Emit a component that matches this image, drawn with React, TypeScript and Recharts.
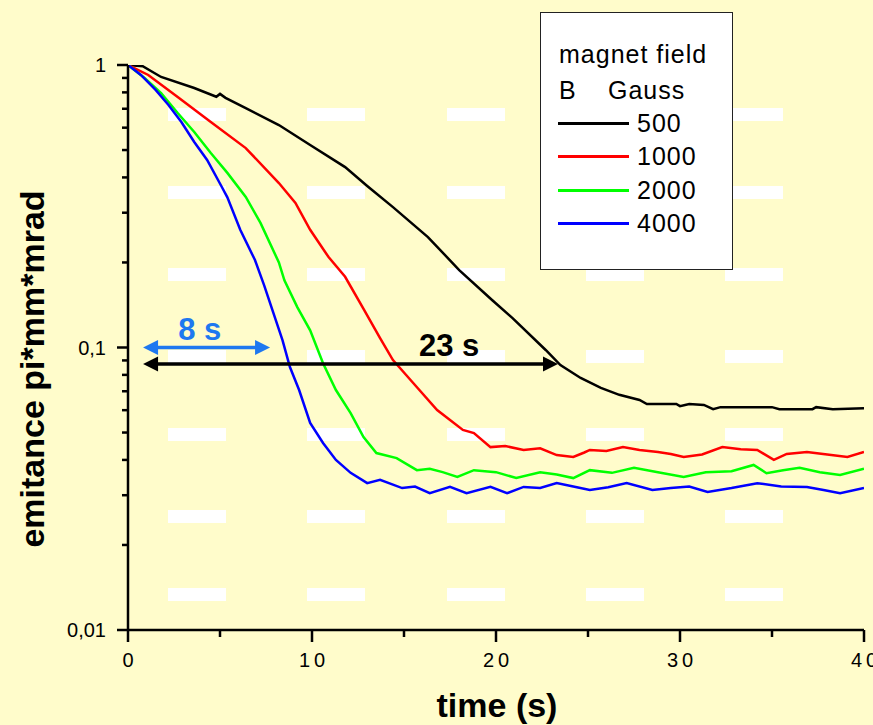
import React from 'react';
import { LineChart, Line, XAxis, YAxis, Legend, ReferenceLine, Label } from 'recharts';

const FONT = 'Arial, "Liberation Sans", Helvetica, sans-serif';
const BG = '#FFFCCB';

// readings taken off the original plot: time (s) and emittance (pi*mm*mrad)
const time500 = [0, 0.8, 1.8, 3.6, 4.8, 5.0, 5.3, 6.4, 8.2, 9.9, 11.8, 13.0, 14.4, 16.3, 18.0, 19.8, 20.9, 22.7, 23.5, 24.6, 25.7, 26.7, 27.8, 28.2, 29.8, 30.0, 30.5, 31.3, 31.8, 32.2, 35.0, 35.4, 37.2, 37.4, 38.3, 40];
const emit500 = [1.0, 0.99, 0.907, 0.829, 0.772, 0.79, 0.765, 0.704, 0.613, 0.521, 0.435, 0.373, 0.314, 0.246, 0.188, 0.147, 0.127, 0.098, 0.0867, 0.078, 0.072, 0.068, 0.0652, 0.0631, 0.0631, 0.062, 0.0631, 0.0626, 0.0605, 0.0615, 0.0615, 0.0605, 0.0605, 0.0615, 0.0605, 0.061];

const time1000 = [0, 1.1, 2.7, 4.5, 6.4, 8.2, 9.1, 9.9, 10.9, 11.8, 12.8, 13.7, 14.4, 15.5, 16.8, 18.2, 18.8, 19.7, 20.5, 21.5, 22.4, 23.3, 24.2, 24.8, 25.1, 26.0, 26.9, 27.8, 28.8, 29.5, 30.2, 31.2, 32.3, 33.3, 34.2, 35.1, 35.8, 36.9, 38.0, 39.1, 40];
const emit1000 = [1.0, 0.922, 0.77, 0.628, 0.508, 0.382, 0.325, 0.261, 0.209, 0.178, 0.137, 0.108, 0.0903, 0.0749, 0.0601, 0.0511, 0.0498, 0.0444, 0.0448, 0.0434, 0.044, 0.0416, 0.041, 0.0425, 0.0434, 0.043, 0.0444, 0.0434, 0.0427, 0.042, 0.041, 0.0418, 0.0444, 0.0436, 0.0434, 0.04, 0.042, 0.0427, 0.0418, 0.041, 0.0427];

const time2000 = [0, 0.9, 1.8, 2.7, 3.6, 4.5, 5.4, 6.4, 7.2, 8.2, 8.5, 9.2, 9.9, 10.6, 11.3, 12.1, 12.8, 13.5, 14.6, 15.7, 16.4, 17.1, 17.9, 18.8, 20.0, 21.1, 22.4, 23.3, 24.2, 25.1, 26.3, 27.5, 28.8, 30.2, 31.4, 32.8, 34.0, 34.7, 35.6, 36.5, 37.6, 38.7, 40];
const emit2000 = [1.0, 0.899, 0.796, 0.676, 0.579, 0.488, 0.415, 0.341, 0.276, 0.2, 0.173, 0.139, 0.115, 0.088, 0.0707, 0.0586, 0.0482, 0.0423, 0.0406, 0.0368, 0.0372, 0.0362, 0.0348, 0.0368, 0.0362, 0.0345, 0.0362, 0.0355, 0.0345, 0.0368, 0.036, 0.0375, 0.0362, 0.0348, 0.0362, 0.0365, 0.0384, 0.0359, 0.0368, 0.0375, 0.0362, 0.0354, 0.0372];

const time4000 = [0, 0.7, 1.5, 2.2, 2.9, 3.6, 4.3, 5.1, 5.4, 6.1, 6.9, 7.4, 7.9, 8.4, 8.8, 9.3, 9.9, 10.6, 11.3, 12.1, 13.0, 13.7, 14.9, 15.6, 16.4, 17.5, 18.4, 19.7, 20.6, 21.5, 22.4, 23.3, 24.2, 25.1, 26.1, 27.1, 28.5, 29.5, 30.5, 31.5, 32.8, 34.2, 35.5, 36.9, 37.8, 38.7, 40];
const emit4000 = [1.0, 0.922, 0.816, 0.722, 0.628, 0.534, 0.461, 0.37, 0.34, 0.261, 0.204, 0.166, 0.1325, 0.106, 0.0853, 0.0707, 0.0541, 0.0459, 0.04, 0.036, 0.0331, 0.034, 0.0318, 0.0322, 0.0305, 0.0321, 0.0305, 0.0321, 0.0305, 0.0321, 0.0318, 0.0331, 0.0322, 0.0313, 0.032, 0.0331, 0.0313, 0.0318, 0.0322, 0.0308, 0.0318, 0.0331, 0.0322, 0.0321, 0.0313, 0.0305, 0.0318];

const fieldNames = ['500', '1000', '2000', '4000'];
const fieldColors = ['#000000', '#ff0000', '#00ff00', '#0000ff'];

const xTicks = [0, 5, 10, 15, 20, 25, 30, 35, 40];
const yTicks = [
  0.01, 0.02, 0.03, 0.04, 0.05, 0.06, 0.07, 0.08, 0.09,
  0.1, 0.2, 0.3, 0.4, 0.5, 0.6, 0.7, 0.8, 0.9, 1,
];

// double arrows drawn over the plot
const arrowStart = [0.82, 0.82];
const arrowEnd = [7.72, 23.37];
const arrowLevel = [0.1, 0.0875];
const arrowLabel = ['8 s', '23 s'];
const arrowLabelAt = [3.9, 17.45];
const arrowColor = ['#1e78f0', '#000000'];

const toPoints = (ts: number[], vs: number[]) => ts.map((t, i) => ({ t, v: vs[i] }));
const seriesData = [
  toPoints(time500, emit500),
  toPoints(time1000, emit1000),
  toPoints(time2000, emit2000),
  toPoints(time4000, emit4000),
];

// white dash pattern of the slide behind the plot
const dashCols = [168, 307, 447, 586, 725];
const dashRows = [108, 186, 268, 350, 428, 510, 588];

const isDecade = (v: number) => Math.abs(Math.log10(v) - Math.round(Math.log10(v))) < 1e-6;

const YTick = (props: any) => {
  const { x, y, payload } = props;
  const v = payload.value;
  const major = isDecade(v);
  return (
    <g>
      <line x1={x - (major ? 11 : 6)} x2={x} y1={y} y2={y} stroke="#000" strokeWidth={2.5} />
      {major && (
        <text x={x - 22} y={y + 7} textAnchor="end" fontSize={20} fontFamily={FONT} fill="#000">
          {String(v).replace('.', ',')}
        </text>
      )}
    </g>
  );
};

const XTick = (props: any) => {
  const { x, y, payload } = props;
  const v = payload.value;
  const major = v % 10 === 0;
  return (
    <g>
      <line x1={x} x2={x} y1={y} y2={y + (major ? 12 : 7)} stroke="#000" strokeWidth={2.5} />
      {major && (
        <text x={x + 2} y={y + 37} textAnchor="middle" fontSize={20} fontFamily={FONT} letterSpacing={4} fill="#000">
          {v}
        </text>
      )}
    </g>
  );
};

const makeArrow = (i: number) => (props: any) => {
  const { x1, x2, y1 } = props;
  const color = arrowColor[i];
  const head = 15;
  const half = 7.5;
  const lx = Math.min(x1, x2);
  const rx = Math.max(x1, x2);
  const tx = lx + ((arrowLabelAt[i] - arrowStart[i]) / (arrowEnd[i] - arrowStart[i])) * (rx - lx);
  return (
    <g>
      <line x1={lx + head - 2} x2={rx - head + 2} y1={y1} y2={y1} stroke={color} strokeWidth={3.5} />
      <polygon points={`${lx},${y1} ${lx + head},${y1 - half} ${lx + head},${y1 + half}`} fill={color} />
      <polygon points={`${rx},${y1} ${rx - head},${y1 - half} ${rx - head},${y1 + half}`} fill={color} />
      <text x={tx} y={y1 - 8} textAnchor="middle" fontSize={31} fontWeight="bold" fontFamily={FONT} fill={color}>
        {arrowLabel[i]}
      </text>
    </g>
  );
};

const LegendBox = () => (
  <div
    style={{
      width: 193,
      height: 258,
      boxSizing: 'border-box',
      background: '#ffffff',
      border: '1.5px solid #222',
      position: 'relative',
      fontFamily: FONT,
      fontSize: 25,
      letterSpacing: 1,
      lineHeight: '25px',
      color: '#000',
    }}
  >
    <div style={{ position: 'absolute', left: 18, top: 29, whiteSpace: 'nowrap' }}>magnet field</div>
    <div style={{ position: 'absolute', left: 18, top: 65 }}>B</div>
    <div style={{ position: 'absolute', left: 67, top: 65 }}>Gauss</div>
    {fieldNames.map((name, i) => (
      <React.Fragment key={name}>
        <div
          style={{
            position: 'absolute',
            left: 17,
            top: 109 + 33.3 * i,
            width: 71,
            height: 3,
            background: fieldColors[i],
          }}
        />
        <div style={{ position: 'absolute', left: 96, top: 98 + 33.3 * i }}>{name}</div>
      </React.Fragment>
    ))}
  </div>
);

export default function App() {
  return (
    <div style={{ position: 'absolute', left: 0, top: 0, width: 873, height: 725, background: BG, overflow: 'hidden' }}>
      <svg width={873} height={725} style={{ position: 'absolute', left: 0, top: 0 }}>
        {dashRows.map((ry) =>
          dashCols.map((cx) => <rect key={`${cx}-${ry}`} x={cx} y={ry} width={58} height={13} fill="#ffffff" />)
        )}
      </svg>
      <div style={{ position: 'absolute', left: 0, top: 0 }}>
        <LineChart width={873} height={725} margin={{ top: 65, right: 9, bottom: 5, left: 8 }}>
          <XAxis
            type="number"
            dataKey="t"
            domain={[0, 40]}
            ticks={xTicks}
            interval={0}
            allowDataOverflow
            height={90}
            tickSize={0}
            tickMargin={0}
            tickLine={false}
            tick={<XTick />}
            axisLine={{ stroke: '#000', strokeWidth: 2.5 }}
          >
            <Label
              content={() => (
                <text x={497} y={717} textAnchor="middle" fontSize={34} fontWeight="bold" fontFamily={FONT} fill="#000">
                  time (s)
                </text>
              )}
            />
          </XAxis>
          <YAxis
            type="number"
            dataKey="v"
            scale="log"
            domain={[0.01, 1]}
            ticks={yTicks}
            interval={0}
            allowDataOverflow
            width={120}
            tickSize={0}
            tickMargin={0}
            tickLine={false}
            tick={<YTick />}
            axisLine={{ stroke: '#000', strokeWidth: 2.5 }}
          >
            <Label
              content={() => (
                <text
                  transform="translate(44,369) rotate(-90)"
                  textAnchor="middle"
                  fontSize={34}
                  fontWeight="bold"
                  fontFamily={FONT}
                  fill="#000"
                >
                  emitance pi*mm*mrad
                </text>
              )}
            />
          </YAxis>
          {seriesData.map((data, i) => (
            <Line
              key={fieldNames[i]}
              data={data}
              dataKey="v"
              name={fieldNames[i]}
              type="linear"
              stroke={fieldColors[i]}
              strokeWidth={2.5}
              dot={false}
              isAnimationActive={false}
            />
          ))}
          {arrowLabel.map((lab, i) => (
            <ReferenceLine
              key={lab}
              segment={[
                { x: arrowStart[i], y: arrowLevel[i] },
                { x: arrowEnd[i], y: arrowLevel[i] },
              ]}
              shape={makeArrow(i)}
            />
          ))}
          <Legend
            layout="horizontal"
            verticalAlign="middle"
            align="center"
            content={() => <LegendBox />}
            wrapperStyle={{ left: 540, top: 12, width: 193, height: 258 }}
          />
        </LineChart>
      </div>
    </div>
  );
}
